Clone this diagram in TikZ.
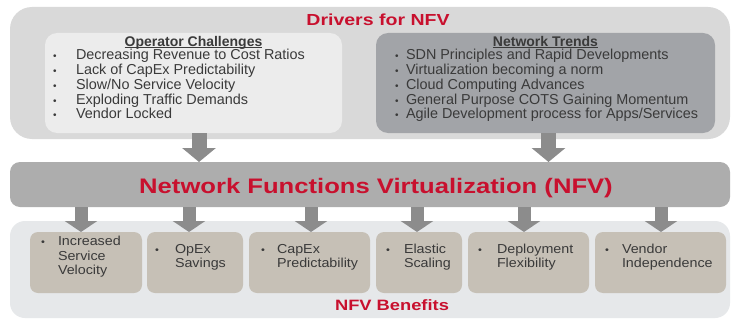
\documentclass[tikz,border=0pt]{standalone}
\usepackage{fontspec}
\setmainfont{Liberation Sans}
\newfontfamily\wideA[FakeStretch=1.22]{Liberation Sans}
\newfontfamily\wideB[FakeStretch=1.1]{Liberation Sans}
\usetikzlibrary{arrows.meta}
\definecolor{nfvred}{HTML}{C8102E}
\definecolor{outergray}{HTML}{D9D9D9}
\definecolor{leftgray}{HTML}{ECECEC}
\definecolor{rightgray}{HTML}{A2A4A8}
\definecolor{bargray}{HTML}{ADADAD}
\definecolor{lowgray}{HTML}{E6E8EA}
\definecolor{tan}{HTML}{C6C0B6}
\definecolor{arrgray}{HTML}{8C8C8C}
\definecolor{txtgray}{HTML}{3A3A3A}
\newcommand{\mybul}{{\fontsize{10}{10}\selectfont\textbullet}}
\begin{document}
\begin{tikzpicture}[x=1pt,y=-1pt,
  panel/.style={draw=none, inner sep=0, outer sep=0, rectangle},
  benefit/.style={panel, fill=tan, rounded corners=8pt, minimum height=61pt},
  toplist/.style={inner sep=0, outer sep=0, text=txtgray, font=\fontsize{14.4}{14.4}\selectfont, anchor=west},
  benlist/.style={inner sep=0, outer sep=0, text=txtgray, font=\wideB\fontsize{13}{14.5}\selectfont, anchor=west},
  header/.style={inner sep=0, outer sep=0, text=txtgray, font=\bfseries\fontsize{14}{14}\selectfont, anchor=base},
  title/.style={inner sep=0, outer sep=0, text=nfvred, anchor=base},
  bigarrow/.style={draw=arrgray, line width=15pt, -{Triangle[width=33pt,length=14pt]}, arrgray},
  smallarrow/.style={draw=arrgray, line width=13pt, -{Triangle[width=32pt,length=11pt]}, arrgray}
]
\useasboundingbox (0,0) rectangle (735,321);
\fill[white] (0,0) rectangle (735,321);

% panels
\node[panel, fill=outergray, rounded corners=22pt, minimum width=720pt, minimum height=132pt] (drivers) at (370,73) {};
\node[panel, fill=leftgray, rounded corners=12pt, minimum width=297pt, minimum height=100pt] (lb) at (193.5,83) {};
\node[panel, fill=rightgray, rounded corners=12pt, minimum width=339pt, minimum height=100pt] (rb) at (545.5,83) {};
\node[panel, fill=bargray, rounded corners=10pt, minimum width=720pt, minimum height=45pt] (nfv) at (370,184.5) {};
\node[panel, fill=lowgray, rounded corners=15pt, minimum width=720pt, minimum height=97pt] (benefits) at (370,269.5) {};

\node[benefit, minimum width=112pt] (b1) at (86,262.5) {};
\node[benefit, minimum width=96pt] (b2) at (195,262.5) {};
\node[benefit, minimum width=121pt] (b3) at (309.5,262.5) {};
\node[benefit, minimum width=86pt] (b4) at (419,262.5) {};
\node[benefit, minimum width=121pt] (b5) at (528.5,262.5) {};
\node[benefit, minimum width=131pt] (b6) at (660.5,262.5) {};

% titles
\node[title, font=\wideA\bfseries\fontsize{16}{16}\selectfont] (t1) at (378,25.7) {Drivers for NFV};
\node[title, font=\wideA\bfseries\fontsize{21}{21}\selectfont] (t2) at (376,193.5) {Network Functions Virtualization (NFV)};
\node[title, font=\wideA\bfseries\fontsize{15}{15}\selectfont] (t3) at (392,310.5) {NFV Benefits};

% headers
\node[header] (h1) at (193.5,46.3) {Operator Challenges};
\node[header] (h2) at (545.5,46.3) {Network Trends};
\draw[txtgray, line width=0.8pt] ([yshift=-1.3pt]h1.base west) -- ([yshift=-1.3pt]h1.base east);
\draw[txtgray, line width=0.8pt] ([yshift=-1.3pt]h2.base west) -- ([yshift=-1.3pt]h2.base east);

% lists
\node[toplist] (l1) at (53,86.3) {\begin{tabular}{@{}p{23pt}@{}l@{}}
\mybul & Decreasing Revenue to Cost Ratios\\
\mybul & Lack of CapEx Predictability\\
\mybul & Slow/No Service Velocity\\
\mybul & Exploding Traffic Demands\\
\mybul & Vendor Locked
\end{tabular}};
\node[toplist] (l2) at (395,86.3) {\begin{tabular}{@{}p{11pt}@{}l@{}}
\mybul & SDN Principles and Rapid Developments\\
\mybul & Virtualization becoming a norm\\
\mybul & Cloud Computing Advances\\
\mybul & General Purpose COTS Gaining Momentum\\
\mybul & Agile Development process for Apps/Services
\end{tabular}};

\node[benlist] (x1) at (41,257.5) {\begin{tabular}{@{}p{17pt}@{}l@{}}\mybul & Increased\\ & Service\\ & Velocity\end{tabular}};
\node[benlist] (x2) at (155,257.5) {\begin{tabular}{@{}p{20pt}@{}l@{}}\mybul & OpEx\\ & Savings\end{tabular}};
\node[benlist] (x3) at (261,257.5) {\begin{tabular}{@{}p{16pt}@{}l@{}}\mybul & CapEx\\ & Predictability\end{tabular}};
\node[benlist] (x4) at (386,257.5) {\begin{tabular}{@{}p{18pt}@{}l@{}}\mybul & Elastic\\ & Scaling\end{tabular}};
\node[benlist] (x5) at (478,257.5) {\begin{tabular}{@{}p{19pt}@{}l@{}}\mybul & Deployment\\ & Flexibility\end{tabular}};
\node[benlist] (x6) at (605,257.5) {\begin{tabular}{@{}p{17pt}@{}l@{}}\mybul & Vendor\\ & Independence\end{tabular}};

% arrows
\draw[bigarrow] ([xshift=5.5pt]lb.south) -- ([xshift=5.5pt]lb.south |- nfv.north);
\draw[bigarrow] ([xshift=3pt]rb.south) -- ([xshift=3pt]rb.south |- nfv.north);
\draw[smallarrow] ([xshift=-5pt]b1.north |- nfv.south) -- ([xshift=-5pt]b1.north);
\draw[smallarrow] ([xshift=-6pt]b2.north |- nfv.south) -- ([xshift=-6pt]b2.north);
\draw[smallarrow] ([xshift=1.5pt]b3.north |- nfv.south) -- ([xshift=1.5pt]b3.north);
\draw[smallarrow] ([xshift=-2pt]b4.north |- nfv.south) -- ([xshift=-2pt]b4.north);
\draw[smallarrow] ([xshift=-4.5pt]b5.north |- nfv.south) -- ([xshift=-4.5pt]b5.north);
\draw[smallarrow] ([xshift=0.5pt]b6.north |- nfv.south) -- ([xshift=0.5pt]b6.north);
\end{tikzpicture}
\end{document}
